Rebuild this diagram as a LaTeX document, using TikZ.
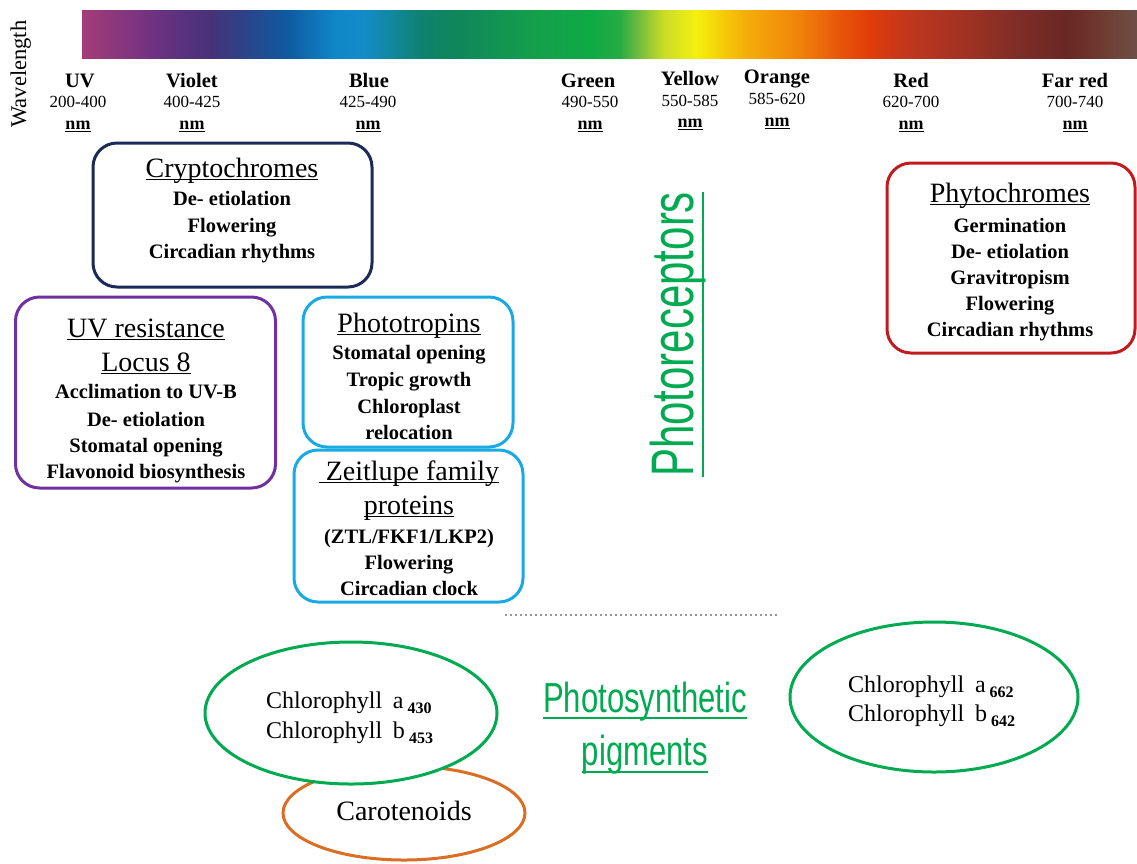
\documentclass[tikz,border=0pt]{standalone}
\usepackage{fontspec}
\setmainfont{Liberation Serif}
\newfontfamily\grfont{Liberation Sans}
\usetikzlibrary{shapes.geometric}
\definecolor{navy}{RGB}{28,42,88}
\definecolor{dred}{RGB}{192,28,32}
\definecolor{purp}{RGB}{112,48,160}
\definecolor{lblue}{RGB}{25,170,228}
\definecolor{grn}{RGB}{0,170,80}
\definecolor{orng}{RGB}{218,110,35}
\definecolor{dotgray}{RGB}{150,150,150}
\definecolor{s0}{RGB}{165,60,120}
\definecolor{s1}{RGB}{110,50,130}
\definecolor{s2}{RGB}{70,50,120}
\definecolor{s3}{RGB}{40,70,140}
\definecolor{s4}{RGB}{15,90,160}
\definecolor{s5}{RGB}{15,135,200}
\definecolor{s6}{RGB}{20,140,200}
\definecolor{s7}{RGB}{15,130,110}
\definecolor{s8}{RGB}{15,135,90}
\definecolor{s9}{RGB}{20,160,75}
\definecolor{s10}{RGB}{15,170,70}
\definecolor{s11}{RGB}{40,172,68}
\definecolor{s12}{RGB}{120,190,60}
\definecolor{s13}{RGB}{200,220,40}
\definecolor{s14}{RGB}{245,240,15}
\definecolor{s15}{RGB}{245,210,10}
\definecolor{s16}{RGB}{245,175,10}
\definecolor{s17}{RGB}{240,130,10}
\definecolor{s18}{RGB}{232,85,10}
\definecolor{s19}{RGB}{225,60,10}
\definecolor{s20}{RGB}{190,55,30}
\definecolor{s21}{RGB}{160,50,35}
\definecolor{s22}{RGB}{125,45,40}
\definecolor{s23}{RGB}{105,40,35}
\definecolor{s24}{RGB}{110,55,45}
\definecolor{s25}{RGB}{110,80,70}
\newcommand\ulc[3]{\leavevmode\setbox0\hbox{#3}\rlap{\raisebox{-#1}{\rule{\wd0}{#2}}}\box0}
\newcommand\ttl[1]{\ulc{3pt}{1.5pt}{#1}}
\newcommand\nmu{\ulc{2.5pt}{1pt}{nm}}
\newcommand\subn[1]{\raisebox{-5pt}{\bfseries\fontsize{16}{16}\selectfont #1}}
\tikzset{
  bx/.style={draw, rounded corners=24pt, line width=3pt, inner sep=0pt},
  bt/.style={anchor=base, inner sep=0pt, font=\bfseries\fontsize{20.5}{20.5}\selectfont},
  tt/.style={anchor=base, inner sep=0pt, font=\fontsize{28}{28}\selectfont},
  wn/.style={anchor=base, inner sep=0pt, font=\bfseries\fontsize{20.5}{20.5}\selectfont},
  wr/.style={anchor=base, inner sep=0pt, font=\fontsize{17}{17}\selectfont},
  wu/.style={anchor=base, inner sep=0pt, font=\bfseries\fontsize{18}{18}\selectfont},
  el/.style={ellipse, line width=3pt, inner sep=0pt},
  et/.style={anchor=base west, inner sep=0pt, font=\fontsize{24}{24}\selectfont},
}
\begin{document}
\begin{tikzpicture}[x=1pt,y=-1pt]
\useasboundingbox[fill=white] (0,0) rectangle (1137,863);
% spectrum bar
\shade[left color=s0,right color=s1] (82,10) rectangle (153.5,58);
\shade[left color=s1,right color=s2] (153,10) rectangle (210.5,58);
\shade[left color=s2,right color=s3] (210,10) rectangle (249.5,58);
\shade[left color=s3,right color=s4] (249,10) rectangle (287.5,58);
\shade[left color=s4,right color=s5] (287,10) rectangle (335.5,58);
\shade[left color=s5,right color=s6] (335,10) rectangle (364.5,58);
\shade[left color=s6,right color=s7] (364,10) rectangle (421.5,58);
\shade[left color=s7,right color=s8] (421,10) rectangle (459.5,58);
\shade[left color=s8,right color=s9] (459,10) rectangle (536.5,58);
\shade[left color=s9,right color=s10] (536,10) rectangle (593.5,58);
\shade[left color=s10,right color=s11] (593,10) rectangle (620.5,58);
\shade[left color=s11,right color=s12] (620,10) rectangle (640.5,58);
\shade[left color=s12,right color=s13] (640,10) rectangle (663.5,58);
\shade[left color=s13,right color=s14] (663,10) rectangle (696.5,58);
\shade[left color=s14,right color=s15] (696,10) rectangle (718.5,58);
\shade[left color=s15,right color=s16] (718,10) rectangle (744.5,58);
\shade[left color=s16,right color=s17] (744,10) rectangle (799.5,58);
\shade[left color=s17,right color=s18] (799,10) rectangle (840.5,58);
\shade[left color=s18,right color=s19] (840,10) rectangle (869.5,58);
\shade[left color=s19,right color=s20] (869,10) rectangle (910.5,58);
\shade[left color=s20,right color=s21] (910,10) rectangle (965.5,58);
\shade[left color=s21,right color=s22] (965,10) rectangle (1020.5,58);
\shade[left color=s22,right color=s23] (1020,10) rectangle (1068.5,58);
\shade[left color=s23,right color=s24] (1068,10) rectangle (1094.5,58);
\shade[left color=s24,right color=s25] (1094,10) rectangle (1137,58);
% wavelength label
\node[rotate=90, anchor=base, inner sep=0pt, font=\fontsize{22.5}{22.5}\selectfont] (wl) at (26,74) {Wavelength};
% band labels
\node[wn] (uvn) at (80,87) {UV};
\node[wr] (uvr) at (78,107) {200-400};
\node[wu] (uvu) at (78,129) {\nmu};
\node[wn] (vin) at (192,87) {Violet};
\node[wr] (vir) at (192,107) {400-425};
\node[wu] (viu) at (192,129) {\nmu};
\node[wn] (bln) at (369,87) {Blue};
\node[wr] (blr) at (368,107) {425-490};
\node[wu] (blu) at (368,129) {\nmu};
\node[wn] (grnn) at (588,87) {Green};
\node[wr] (grr) at (590,107) {490-550};
\node[wu] (gru) at (590,129) {\nmu};
\node[wn] (yen) at (690,85) {Yellow};
\node[wr] (yer) at (690,106) {550-585};
\node[wu] (yeu) at (690,127) {\nmu};
\node[wn] (orn) at (777,83) {Orange};
\node[wr] (orr) at (777,104) {585-620};
\node[wu] (oru) at (777,126) {\nmu};
\node[wn] (ren) at (911,87) {Red};
\node[wr] (rer) at (911,107) {620-700};
\node[wu] (reu) at (911,129) {\nmu};
\node[wn] (frn) at (1075,87) {Far red};
\node[wr] (frr) at (1075,107) {700-740};
\node[wu] (fru) at (1075,129) {\nmu};
% boxes
\node[bx, draw=navy, minimum width=279pt, minimum height=144pt] (crypto) at (232.5,215) {};
\node[tt] (c0) at (232,177) {\ttl{Cryptochromes}};
\node[bt] (c1) at (232,205) {De- etiolation};
\node[bt] (c2) at (232,232) {Flowering};
\node[bt] (c3) at (232,258) {Circadian rhythms};
\node[bx, draw=dred, minimum width=248pt, minimum height=190pt] (phyto) at (1011,258) {};
\node[tt] (p0) at (1010,202) {\ttl{Phytochromes}};
\node[bt] (p1) at (1010,232) {Germination};
\node[bt] (p2) at (1010,258) {De- etiolation};
\node[bt] (p3) at (1010,284) {Gravitropism};
\node[bt] (p4) at (1010,310) {Flowering};
\node[bt] (p5) at (1010,336) {Circadian rhythms};
\node[bx, draw=purp, minimum width=260pt, minimum height=191pt] (uvr8) at (145.5,392.5) {};
\node[tt] (u0) at (146,337) {\ttl{UV resistance}};
\node[tt] (u1) at (146,371) {\ttl{Locus 8}};
\node[bt] (u2) at (146,398) {Acclimation to UV-B};
\node[bt] (u3) at (146,426) {De- etiolation};
\node[bt] (u4) at (146,452) {Stomatal opening};
\node[bt] (u5) at (146,478) {Flavonoid biosynthesis};
\node[bx, draw=lblue, minimum width=210pt, minimum height=150pt] (phot) at (408,372) {};
\node[tt] (h0) at (409,332) {\ttl{Phototropins}};
\node[bt] (h1) at (409,359) {Stomatal opening};
\node[bt] (h2) at (409,386) {Tropic growth};
\node[bt] (h3) at (409,413) {Chloroplast};
\node[bt] (h4) at (409,439) {relocation};
\node[bx, draw=lblue, minimum width=229pt, minimum height=152pt] (zeit) at (408.5,526) {};
\node[tt] (z0) at (409,480) {\ttl{\ Zeitlupe family}};
\node[tt] (z1) at (409,514) {\ttl{proteins}};
\node[bt] (z2) at (409,543) {(ZTL/FKF1/LKP2)};
\node[bt] (z3) at (409,569) {Flowering};
\node[bt] (z4) at (409,595) {Circadian clock};
% photoreceptors label
\node[rotate=90, anchor=base west, inner sep=0pt, text=grn] (prec) at (693,477)
  {\scalebox{0.70}[1]{\grfont\fontsize{60}{60}\selectfont\ulc{11pt}{2pt}{Photoreceptors}}};
% dotted separator
\coordinate (d1) at (505,615);
\coordinate (d2) at (777,615);
\draw[dotgray, line width=2pt, dash pattern=on 2pt off 3pt] (d1) -- (d2);
% photosynthetic pigments label
\node[anchor=base, inner sep=0pt, text=grn] (ps1) at (645,712)
  {\scalebox{0.74}[1]{\grfont\fontsize{42}{42}\selectfont\ulc{7pt}{2pt}{Photosynthetic}}};
\node[anchor=base, inner sep=0pt, text=grn] (ps2) at (645,765)
  {\scalebox{0.74}[1]{\grfont\fontsize{42}{42}\selectfont\ulc{8pt}{2pt}{pigments}}};
% ellipses
\node[el, draw=orng, minimum width=242pt, minimum height=94pt] (car) at (404,813) {};
\node[anchor=base, inner sep=0pt, font=\fontsize{28}{28}\selectfont] (cart) at (404,820) {Carotenoids};
\node[el, draw=grn, fill=white, minimum width=292pt, minimum height=142pt] (chl1) at (351,713) {};
\node[et] (ca1) at (266,708) {Chlorophyll\hspace{0.45em}a\,\subn{430}};
\node[et] (cb1) at (266,738) {Chlorophyll\hspace{0.45em}b\,\subn{453}};
\node[el, draw=grn, minimum width=288pt, minimum height=150pt] (chl2) at (934,697) {};
\node[et] (ca2) at (848,692) {Chlorophyll\hspace{0.45em}a\,\subn{662}};
\node[et] (cb2) at (848,721) {Chlorophyll\hspace{0.45em}b\,\subn{642}};
\end{tikzpicture}
\end{document}
